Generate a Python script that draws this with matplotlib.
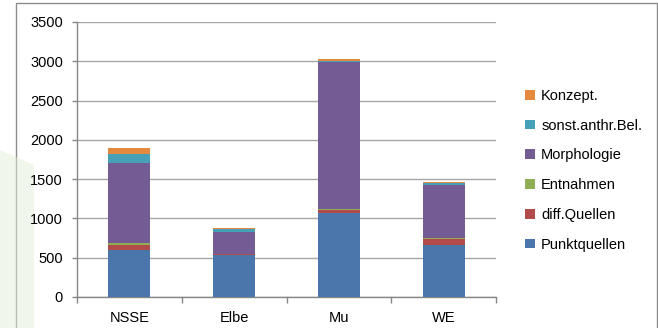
import numpy as np
import matplotlib
matplotlib.use('Agg')
import matplotlib.pyplot as plt
from matplotlib.patches import Rectangle, Polygon

plt.rcParams['font.family'] = ['Liberation Sans', 'DejaVu Sans']

# Load per river section, stacked bottom to top
sections = ['NSSE', 'Elbe', 'Mu', 'WE']
punktquellen = [600, 530, 1065, 660]
diff_quellen = [60, 15, 45, 75]
entnahmen = [25, 5, 5, 10]
morphologie = [1015, 280, 1870, 680]
sonst_anthr = [115, 30, 15, 25]
konzept = [80, 20, 25, 15]

series = [
    ('Punktquellen', punktquellen, '#4a76ab'),
    ('diff.Quellen', diff_quellen, '#b24c4a'),
    ('Entnahmen', entnahmen, '#8fae55'),
    ('Morphologie', morphologie, '#745b94'),
    ('sonst.anthr.Bel.', sonst_anthr, '#46a0b8'),
    ('Konzept.', konzept, '#e5893e'),
]

fig = plt.figure(figsize=(6.58, 3.28), dpi=100)

# slide background: pale green shape on the left, chart frame on top
fig.patches.append(Rectangle((0, 0), 1, 1, transform=fig.transFigure,
                             facecolor='white', edgecolor='none', zorder=-10))
fig.patches.append(Rectangle((16 / 658, -0.05), 641 / 658, 1.05 - 3 / 328,
                             transform=fig.transFigure, facecolor='white',
                             edgecolor='#8c8c8c', linewidth=1.0, zorder=-5))
fig.patches.append(Polygon([(0, 0), (34 / 658, 0), (34 / 658, 1 - 165 / 328),
                            (0, 1 - 150 / 328)], closed=True,
                           transform=fig.transFigure, facecolor='#e3efd6',
                           edgecolor='none', alpha=0.5, zorder=-4))

ax = fig.add_axes([77 / 658, 1 - 297 / 328, 419 / 658, 275 / 328])
ax.patch.set_alpha(0)

x = np.arange(len(sections))
bottom = np.zeros(len(sections))
handles = []
for name, vals, color in series:
    b = ax.bar(x, vals, 0.4, bottom=bottom, color=color, label=name,
               edgecolor='none', zorder=3)
    handles.append(b)
    bottom += np.array(vals)

ax.set_xlim(-0.5, 3.5)
ax.set_ylim(0, 3500)
ax.set_yticks(np.arange(0, 3501, 500))
ax.yaxis.grid(True, color='#a6a6a6', linewidth=1.0, zorder=0)
ax.set_axisbelow(True)

ax.set_xticks(x)
ax.set_xticklabels(sections, fontsize=10.5)
ax.set_xticks(np.arange(-0.5, 3.6, 1.0), minor=True)
ax.tick_params(axis='x', which='major', length=0, pad=10)
ax.tick_params(axis='x', which='minor', length=4, color='#868686', width=1)
ax.tick_params(axis='y', length=3.6, color='#868686', width=1, labelsize=10.5, pad=6.5)

for side in ('top', 'right'):
    ax.spines[side].set_visible(False)
for side in ('left', 'bottom'):
    ax.spines[side].set_color('#868686')
    ax.spines[side].set_linewidth(1.0)

fig.legend(handles[::-1], [s[0] for s in series][::-1],
           loc='center left', bbox_to_anchor=(0.778, 0.481),
           frameon=False, fontsize=10.5, handlelength=0.65, handleheight=0.65,
           handletextpad=0.45, labelspacing=1.08)

fig.savefig('out.png', dpi=100, facecolor='white')
